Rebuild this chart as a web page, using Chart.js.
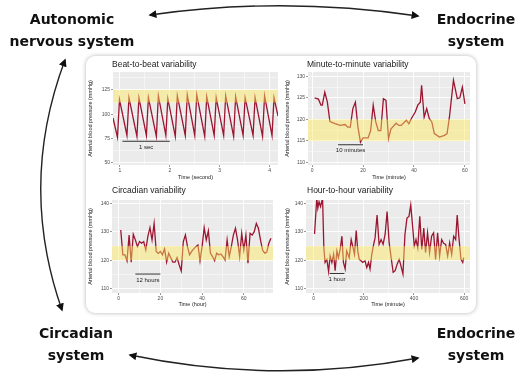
<!DOCTYPE html>
<html>
<head>
<meta charset="utf-8">
<script src="https://cdn.jsdelivr.net/npm/chart.js@4.4.0/dist/chart.umd.min.js"></script>
<style>
  html, body { margin: 0; padding: 0; background: #fff; }
  body { width: 529px; height: 372px; position: relative; overflow: hidden; font-family: "Liberation Sans", Arial, sans-serif; -webkit-font-smoothing: antialiased; }
  #panel { position: absolute; left: 86px; top: 56px; width: 390px; height: 257px; background: #fff; border-radius: 9px; box-shadow: 0 0 4px rgba(0,0,0,0.3); }
  canvas { position: absolute; }
  .title { position: absolute; font-size: 8.5px; color: #1a1a1a; white-space: nowrap; line-height: 1; will-change: transform; }
  .system { position: absolute; width: 140px; font-family: "DejaVu Sans", sans-serif; font-weight: bold; font-size: 14px; color: #111; text-align: center; line-height: 22px; will-change: transform; }
  svg { position: absolute; left: 0; top: 0; }
</style>
</head>
<body>
<div id="panel"></div>

<div class="title" style="left:112px; top:60px;">Beat-to-beat variability</div>
<div class="title" style="left:307px; top:60px;">Minute-to-minute variability</div>
<div class="title" style="left:112px; top:186px;">Circadian variability</div>
<div class="title" style="left:307px; top:186px;">Hour-to-hour variability</div>

<canvas id="beatChart" width="197" height="126" style="left:86px; top:57px;"></canvas>
<canvas id="minuteChart" width="195" height="126" style="left:283px; top:57px;"></canvas>
<canvas id="circadianChart" width="197" height="125" style="left:86px; top:185px;"></canvas>
<canvas id="hourChart" width="195" height="125" style="left:283px; top:185px;"></canvas>

<div class="system" style="left:2px; top:8px;">Autonomic<br>nervous system</div>
<div class="system" style="left:406px; top:8px;">Endocrine<br>system</div>
<div class="system" style="left:6px; top:322px;">Circadian<br>system</div>
<div class="system" style="left:406px; top:322px;">Endocrine<br>system</div>

<svg width="529" height="372">
  <defs>
    <marker id="head" viewBox="0 0 10 10" refX="8" refY="5" markerWidth="8" markerHeight="8"
            markerUnits="userSpaceOnUse" orient="auto-start-reverse">
      <path d="M0,0 L10,5 L0,10 z" fill="#111"></path>
    </marker>
  </defs>
  <path d="M150,15 Q283,-4 418,16" fill="none" stroke="#222" stroke-width="1.4" marker-start="url(#head)" marker-end="url(#head)"></path>
  <path d="M65,60 Q18,185 62,310" fill="none" stroke="#222" stroke-width="1.4" marker-start="url(#head)" marker-end="url(#head)"></path>
  <path d="M130,355 Q275,385 418,358" fill="none" stroke="#222" stroke-width="1.4" marker-start="url(#head)" marker-end="url(#head)"></path>
</svg>

<script>
// Beat-to-beat (time in seconds, pressure in mmHg)
const bbTime = [0.86, 0.95, 0.99, 1.14, 1.18, 1.34, 1.38, 1.53, 1.57, 1.73, 1.77, 1.92, 1.96, 2.11, 2.15, 2.31, 2.35, 2.50,
  2.54, 2.70, 2.74, 2.89, 2.93, 3.08, 3.12, 3.28, 3.32, 3.47, 3.51, 3.67, 3.71, 3.86, 3.90, 4.05, 4.09, 4.17];
const bbPressure = [96, 76, 115, 78, 117, 77, 117, 78, 117, 77, 119, 78, 116, 77, 119, 78, 120, 78,
  120, 77, 118, 78, 117, 78, 119, 77, 118, 78, 117, 78, 117, 77, 119, 78, 117, 98];

// Minute-to-minute
const mmMinute = [1, 2.5, 3.5, 4, 5, 6, 7, 9, 11, 13, 14, 15, 16, 17, 18, 19, 20, 22, 23, 24, 25, 26, 27, 28, 29, 30,
  31, 33, 34, 35, 37, 38, 39, 40.5, 41.5, 42.5, 43, 44, 45, 46, 47, 48, 50, 52, 53, 54, 55.5, 57, 58, 59, 60];
const mmPressure = [125, 124.7, 123.3, 123.3, 126.3, 124, 119.5, 119, 118.6, 118.8, 118.2, 118.2, 122.5, 124, 118.2,
  114.7, 115.7, 115.7, 117.4, 123.3, 119.4, 117.4, 117.4, 124.8, 124.4, 115.5, 117.8, 119.1, 118.6, 118.6, 119.8,
  119, 120.2, 121.7, 123.3, 124, 127.9, 120.5, 122.5, 120.2, 119.4, 116.7, 115.9, 116.3, 116.7, 120.9, 129.1,
  124.8, 125, 127.5, 123.6];

// Circadian
const circHour = [1, 2, 3, 4, 5, 6, 7, 8, 9, 10, 11, 12, 13, 14, 15, 16, 17, 18, 19, 20, 21, 22, 23, 24, 25, 26, 27,
  28, 29, 30, 31, 32, 33, 34, 35, 36, 37, 38, 39, 40, 41, 42, 43, 44, 45, 46, 47, 48, 49, 50, 51, 52, 53, 54, 55,
  56, 57, 58, 59, 60, 61, 62, 63, 64, 65, 66, 67, 68, 69, 70, 71, 72, 73];
const circPressure = [130.7, 121.9, 121.9, 119.8, 128.9, 119.3, 129.2, 127.2, 124.8, 126.6, 126, 126.6, 123.6,
  128.4, 131.5, 127.2, 133, 123.1, 122.4, 123.1, 121.9, 124, 119.3, 122.5, 120.9, 119.3, 119.3, 120.9, 118.4,
  116.2, 126.6, 128.9, 124.8, 121.9, 123.1, 124, 124.8, 125.4, 119.8, 124.8, 131.5, 127.2, 130.4, 122.5, 121.3,
  119.8, 122.5, 121.9, 122.2, 121.3, 120.1, 127.2, 121.3, 124.8, 128.9, 131.3, 127.2, 121.3, 129.5, 123.6, 128.9,
  118.9, 129.5, 128.9, 130.1, 133, 131.3, 127.2, 123.6, 122.5, 122.8, 126, 127.8];

// Hour-to-hour
const hhMinute = [4, 13, 17, 22, 28, 36, 41, 46, 53, 60, 66, 73, 80, 86, 93, 99, 106, 113, 119, 126, 132, 142, 150,
  156, 163, 170, 176, 182, 189, 196, 205, 212, 219, 225, 232, 238, 245, 253, 261, 269, 277, 285, 293, 301, 309,
  317, 325, 333, 341, 348, 356, 364, 372, 380, 387, 394, 401, 408, 415, 423, 431, 439, 446, 454, 462, 470, 478,
  486, 494, 502, 510, 518, 526, 534, 542, 550, 558, 566, 572, 579, 587, 594, 598];
const hhPressure = [129.3, 142, 138.4, 140.7, 139, 142, 124.4, 119.2, 120.3, 116, 121.5, 119.2, 122.1, 116.3, 123.3,
  120.9, 123.8, 128.5, 119.2, 116.9, 123.3, 120.9, 127.3, 125, 122.1, 130.5, 123.3, 120.3, 119.8, 119.2, 119.8,
  117.4, 119.2, 116.9, 122.1, 125, 127.9, 136, 125.6, 127.3, 125.6, 129.1, 137.2, 126.2, 120.9, 115.7, 116.3,
  118.6, 120.3, 118, 115.1, 129.1, 134.9, 135.5, 139.5, 132.6, 125, 127.3, 124.4, 135.5, 123.8, 131.4, 122.7,
  129.7, 122.7, 128.5, 129.7, 120.3, 129.7, 121.5, 127.3, 126, 125.6, 121.5, 126.2, 122.1, 128.5, 127.3, 136,
  127.9, 120.3, 119.2, 120.9];

// tick labels
const bbXTicks = [1, 2, 3, 4];
const bbYTicks = [50, 75, 100, 125];
const mmXTicks = [0, 20, 40, 60];
const mmYTicks = [110, 115, 120, 125, 130];
const circXTicks = [0, 20, 40, 60];
const circYTicks = [110, 120, 130, 140];
const hhXTicks = [0, 200, 400, 600];
const hhYTicks = [110, 120, 130, 140];

// yellow reference bands (mmHg)
const bbBand = [112, 125];
const mmBand = [115, 120];
const circBand = [120, 125];
const hhBand = [120, 125];

// scale bars: [start, end] on x, level on y, label
const bbBar = [1.05, 2.0], bbBarLevel = 72, bbBarLabel = "1 sec";
const mmBar = [10.2, 20], mmBarLevel = 114.1, mmBarLabel = "10 minutes";
const circBar = [8, 20], circBarLevel = 115.1, circBarLabel = "12 hours";
const hhBar = [64, 123], hhBarLevel = 115.3, hhBarLabel = "1 hour";

const lineRed = "#9c1530";
const fontFamily = "'Liberation Sans', Arial, sans-serif";

// major ticks plus the half-way minor grid lines
function gridTicks(major, min, max) {
  const half = (major[1] - major[0]) / 2;
  const vals = [];
  for (let v = major[0] - half; v <= max + 1e-9; v += half) {
    if (v >= min - 1e-9) vals.push(v);
  }
  return vals.map((v) => ({ value: v }));
}

// ggplot-like panel: grey background, yellow band on top, scale bar label
const panelDecor = {
  id: "panelDecor",
  beforeDraw(chart) {
    const { ctx, chartArea: a } = chart;
    ctx.save();
    ctx.fillStyle = "#EBEBEB";
    ctx.fillRect(a.left, a.top, a.width, a.height);
    ctx.restore();
  },
  afterDatasetsDraw(chart, args, opts) {
    const { ctx, chartArea: a } = chart;
    const x = chart.scales.x, y = chart.scales.y;
    const top = y.getPixelForValue(opts.band[1]);
    const bottom = y.getPixelForValue(opts.band[0]);
    ctx.save();
    ctx.fillStyle = "rgba(255, 236, 90, 0.45)";
    ctx.fillRect(a.left, top, a.width, bottom - top);
    ctx.fillStyle = "#222";
    ctx.font = "6px " + fontFamily;
    ctx.textAlign = "center";
    ctx.textBaseline = "middle";
    const mid = x.getPixelForValue((opts.bar[0] + opts.bar[1]) / 2);
    ctx.fillText(opts.barLabel, mid, y.getPixelForValue(opts.barLevel) + 6);
    ctx.restore();
  },
};

function makeChart(id, cfg) {
  const points = cfg.x.map((x, i) => ({ x: x, y: cfg.y[i] }));
  const barPoints = cfg.bar.map((x) => ({ x: x, y: cfg.barLevel }));
  const isMajor = (list) => (ctx) => ctx.tick && list.includes(ctx.tick.value);

  const axis = (min, max, major, title, fit) => ({
    type: "linear",
    min: min,
    max: max,
    afterBuildTicks: (scale) => { scale.ticks = gridTicks(major, min, max); },
    afterFit: fit,
    ticks: {
      autoSkip: false,
      maxRotation: 0,
      padding: 1,
      font: { size: 5, family: fontFamily },
      color: "#4d4d4d",
      callback: (value) => (major.includes(value) ? String(value) : ""),
    },
    grid: {
      color: "#ffffff",
      lineWidth: (ctx) => (isMajor(major)(ctx) ? 0.9 : 0.45),
      tickLength: 2,
      tickColor: (ctx) => (isMajor(major)(ctx) ? "#555" : "rgba(0,0,0,0)"),
      tickWidth: 0.6,
    },
    border: { display: false },
    title: {
      display: true,
      text: title,
      font: { size: 5.5, family: fontFamily },
      color: "#222",
      padding: { top: 1, bottom: 2 },
    },
  });

  return new Chart(document.getElementById(id).getContext("2d"), {
    type: "line",
    data: {
      datasets: [
        { data: points, borderColor: lineRed, borderWidth: 1.3, pointRadius: 0, tension: 0 },
        { data: barPoints, borderColor: "#333", borderWidth: 1, pointRadius: 0 },
      ],
    },
    options: {
      responsive: false,
      animation: false,
      events: [],
      layout: { padding: { top: cfg.padTop, right: cfg.padRight, left: 0, bottom: 0 } },
      plugins: {
        legend: { display: false },
        tooltip: { enabled: false },
        panelDecor: { band: cfg.band, bar: cfg.bar, barLevel: cfg.barLevel, barLabel: cfg.barLabel },
      },
      scales: {
        x: axis(cfg.xMin, cfg.xMax, cfg.xTicks, cfg.xTitle, (s) => { s.height = cfg.xAxisH; }),
        y: axis(cfg.yMin, cfg.yMax, cfg.yTicks, "Arterial blood pressure (mmHg)", (s) => { s.width = cfg.yAxisW; }),
      },
    },
    plugins: [panelDecor],
  });
}

makeChart("beatChart", {
  x: bbTime, y: bbPressure, xTicks: bbXTicks, yTicks: bbYTicks,
  xMin: 0.86, xMax: 4.17, yMin: 47.5, yMax: 143.5,
  xTitle: "Time (second)", band: bbBand,
  bar: bbBar, barLevel: bbBarLevel, barLabel: bbBarLabel,
  padTop: 15, padRight: 5, yAxisW: 27, xAxisH: 18,
});

makeChart("minuteChart", {
  x: mmMinute, y: mmPressure, xTicks: mmXTicks, yTicks: mmYTicks,
  xMin: -1.6, xMax: 62, yMin: 109.4, yMax: 131,
  xTitle: "Time (minute)", band: mmBand,
  bar: mmBar, barLevel: mmBarLevel, barLabel: mmBarLabel,
  padTop: 15, padRight: 8, yAxisW: 25, xAxisH: 18,
});

makeChart("circadianChart", {
  x: circHour, y: circPressure, xTicks: circXTicks, yTicks: circYTicks,
  xMin: -3.2, xMax: 74, yMin: 108.4, yMax: 141.3,
  xTitle: "Time (hour)", band: circBand,
  bar: circBar, barLevel: circBarLevel, barLabel: circBarLabel,
  padTop: 15, padRight: 10, yAxisW: 26, xAxisH: 17,
});

makeChart("hourChart", {
  x: hhMinute, y: hhPressure, xTicks: hhXTicks, yTicks: hhYTicks,
  xMin: -30, xMax: 623, yMin: 108.4, yMax: 141.3,
  xTitle: "Time (minute)", band: hhBand,
  bar: hhBar, barLevel: hhBarLevel, barLabel: hhBarLabel,
  padTop: 15, padRight: 8, yAxisW: 23, xAxisH: 17,
});
</script>
</body>
</html>
